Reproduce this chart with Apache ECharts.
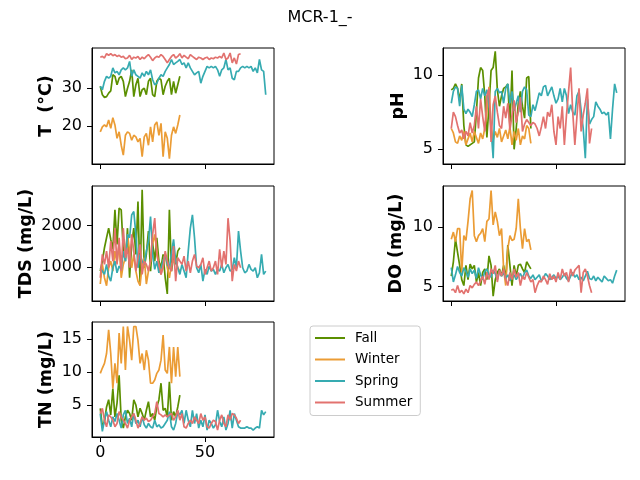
<!DOCTYPE html>
<html>
<head>
<meta charset="utf-8">
<script src="https://cdn.jsdelivr.net/npm/echarts@6/dist/echarts.min.js"></script>
<style>
  html, body { margin: 0; padding: 0; background: #fff; }
  #main { width: 640px; height: 480px; }
</style>
</head>
<body>
<div id="main"></div>
<script>
// seasons and colours
const seasons = ["Fall", "Winter", "Spring", "Summer"];
const colors = ["#5b8f00", "#eb9c35", "#36abb1", "#e2726f"];

// T (°C)
const fallT = [30.4,28.2,27.5,27.7,28.6,29.2,33.4,33.0,30.8,32.5,33.0,31.7,27.7,29.9,31.7,34.7,27.7,30.8,32.5,27.7,29.5,29.9,28.2,31.7,32.5,28.2,27.7,31.7,32.5,32.1,28.2,30.4,31.7,32.5,28.2,31.7,28.6,30.8,33.0];
const winterT = [18.5,19.8,20.3,19.8,21.6,19.4,22.2,20.3,16.8,18.5,15.0,12.4,17.6,18.5,18.1,16.3,17.6,17.2,15.9,16.8,12.0,17.2,18.1,15.0,19.8,15.9,20.3,21.1,17.6,20.7,12.0,18.5,16.8,11.5,17.6,19.8,18.1,20.3,22.9];
const springT = [30.4,29.5,31.7,33.0,32.5,33.0,35.2,33.9,34.3,33.4,34.7,35.2,34.7,35.2,36.9,33.0,34.7,33.4,33.0,32.5,33.9,33.0,34.3,33.4,34.7,32.1,30.8,31.2,32.5,33.4,33.0,34.3,35.2,36.1,37.4,36.1,36.5,36.9,37.4,36.1,36.5,35.2,36.5,35.2,34.3,33.4,33.9,34.3,31.2,33.0,34.3,35.6,35.2,35.6,35.2,35.6,34.7,33.0,34.7,35.2,37.4,34.7,35.2,32.5,32.1,34.3,34.3,35.2,35.6,35.2,35.6,35.2,35.6,34.3,35.2,33.9,37.4,34.7,34.3,28.2];
const summerT = [38.0,38.2,37.8,38.9,38.5,38.9,38.4,38.7,38.2,38.5,38.0,38.2,37.6,37.8,38.5,37.4,38.0,37.8,38.2,37.4,38.0,37.6,38.2,38.7,38.0,37.1,37.8,38.2,38.0,38.7,38.2,37.4,36.5,37.4,38.2,38.7,37.8,38.2,38.9,37.8,38.5,38.0,37.6,38.7,38.2,37.8,37.4,38.0,37.8,37.4,37.8,38.0,37.4,37.8,37.6,38.0,37.8,38.2,37.8,39.1,37.4,37.8,39.1,36.5,37.8,36.2,38.7,38.9];

// pH
const fallPH = [9.0,9.1,9.4,9.1,8.3,9.4,6.6,5.3,5.2,5.3,5.4,5.5,7.5,9.8,10.5,10.3,8.6,5.8,7.9,10.3,10.5,11.6,9.0,7.9,8.6,9.1,9.2,9.4,6.6,10.3,5.0,6.4,8.1,8.9,7.9,7.1,9.8,9.9,6.4];
const winterPH = [6.4,6.1,5.5,5.4,5.9,5.6,6.2,5.3,5.7,6.1,5.5,6.2,5.8,5.4,6.1,5.7,6.4,7.5,9.2,6.6,5.6,6.2,5.8,6.4,5.5,5.9,6.3,5.7,6.5,5.3,6.2,5.6,6.4,5.3,5.9,5.7,6.6,6.4,5.4];
const springPH = [8.1,8.9,9.2,9.1,7.9,9.3,7.7,7.4,7.7,7.5,7.2,8.0,8.9,9.0,8.4,9.1,8.6,9.0,8.0,6.4,4.4,8.9,9.1,8.8,8.9,8.1,9.1,9.4,8.1,8.9,7.6,8.1,8.6,7.5,8.9,9.2,9.0,7.3,7.2,8.0,7.6,8.2,8.8,8.6,9.2,9.3,8.6,8.9,9.2,8.6,8.1,8.4,9.1,8.2,9.1,8.6,7.4,8.0,7.5,7.3,8.6,8.9,7.6,6.4,4.4,8.4,6.7,7.0,7.2,8.2,7.9,7.7,7.4,7.5,7.3,7.5,5.7,7.7,9.4,8.8];
const summerPH = [6.4,7.5,7.2,6.6,6.1,6.3,5.7,6.2,5.9,6.8,6.1,6.6,7.9,6.4,8.4,7.2,6.2,8.6,9.1,5.5,8.0,8.6,7.5,6.6,6.4,7.9,7.1,8.1,6.3,7.3,8.3,6.8,7.5,8.5,6.2,6.7,7.0,6.8,6.6,6.8,6.7,6.4,5.9,6.5,7.2,6.4,7.5,7.2,8.0,6.2,5.3,7.2,6.4,7.9,5.3,7.3,8.9,10.5,7.5,5.3,7.2,9.1,6.2,7.3,8.1,9.1,5.4,6.4];

// TDS (mg/L)
const fallTDS = [910,1150,1470,1710,1940,1670,1430,2380,1550,2420,2380,1390,1150,1940,750,1550,1940,1310,2580,600,2860,990,1310,1870,910,1590,1150,1710,1150,990,1310,750,360,2380,910,1270,1070,1390,1470];
const winterTDS = [600,1070,750,560,990,1150,910,1390,1110,1550,750,1070,1230,1790,1390,990,1310,910,670,560,1070,1230,600,910,1150,1550,1790,1390,990,830,1150,1310,990,750,1070,1150,1230,990,910];
const springTDS = [990,910,830,1070,790,670,990,1150,870,1030,950,1390,1150,1790,1710,2260,2340,1790,990,1310,1150,1070,1390,1630,2220,1310,950,1150,870,990,1150,1310,1070,990,1350,1670,1150,990,830,1070,910,750,1390,1940,2260,1710,990,870,1070,670,950,830,1030,910,950,830,950,910,1070,870,990,1070,910,950,1230,990,1870,1390,990,870,910,1070,950,910,990,750,870,1310,830,910];
const summerTDS = [750,1310,1070,1390,990,1630,1150,1940,1070,1710,910,1940,1230,1470,990,1790,1390,910,1230,1550,830,1150,1070,910,1150,1790,2180,1310,1070,830,990,1390,1150,990,910,1510,670,1230,1150,1070,1270,910,1150,870,1150,1310,1030,990,1070,1230,830,990,1150,910,990,1150,830,1430,990,1390,1070,2180,1630,670,1070,910,1150,990];

// DO (mg/L)
const fallDO = [5.9,7.1,9.0,7.9,6.8,5.6,5.1,6.8,5.6,6.9,6.5,6.8,5.4,6.2,5.1,6.2,6.5,5.6,7.6,6.8,4.2,5.6,6.2,6.5,5.9,6.8,5.6,8.5,6.8,5.1,6.8,5.9,6.8,6.9,6.5,6.2,7.1,6.8,6.5];
const winterDO = [9.0,9.6,8.8,9.9,9.9,6.2,9.3,8.9,10.5,12.4,13.1,9.3,8.8,9.3,9.5,9.9,8.8,10.5,10.7,13.1,10.2,11.3,10.5,9.3,9.9,6.5,5.1,8.2,9.3,8.9,9.0,9.9,12.4,9.9,8.2,9.9,8.8,9.0,8.1];
const springDO = [6.6,5.4,6.0,6.7,6.2,5.9,6.6,6.3,5.8,6.5,6.1,6.4,5.7,6.6,6.0,5.6,6.3,6.5,6.0,5.8,6.4,6.1,5.6,6.3,5.9,6.2,5.7,6.0,5.5,5.8,6.0,5.6,5.9,6.1,5.7,6.2,6.4,5.9,5.7,6.0,5.6,5.8,6.0,5.5,5.7,6.1,5.9,5.6,5.8,6.0,5.7,5.9,5.6,5.8,6.1,5.7,5.5,5.9,6.2,5.8,6.0,5.6,5.8,5.5,5.9,6.3,5.7,5.6,5.9,5.5,5.8,5.6,5.4,5.9,5.7,5.5,5.6,5.3,5.9,6.4];
const summerDO = [4.7,4.8,4.5,5.1,4.5,4.7,4.4,4.8,4.5,5.1,4.9,5.2,5.4,5.1,5.5,5.9,5.2,6.2,5.6,6.5,6.1,6.8,5.4,6.4,5.9,6.5,5.6,5.1,6.2,5.6,6.5,5.8,6.2,5.1,5.9,5.6,6.2,5.8,5.4,5.6,4.5,5.1,5.5,5.4,5.9,5.6,5.2,6.1,5.6,5.9,5.4,6.2,5.6,6.5,5.9,6.2,5.4,6.5,5.9,6.4,6.6,6.8,4.5,6.2,6.5,5.9,5.1,4.5];

// TN (mg/L)
const fallTN = [4.5,1.7,2.5,4.7,5.8,3.5,7.5,3.2,5.3,9.5,2.7,1.5,3.2,4.2,3.7,2.7,5.8,5.0,3.2,4.5,3.7,2.7,4.2,5.5,3.2,3.7,2.7,4.7,5.8,8.3,4.2,4.5,3.2,8.5,2.7,4.0,3.2,4.7,6.5];
const winterTN = [9.8,10.6,11.3,12.8,16.4,12.8,7.5,11.3,8.3,15.9,11.3,16.9,10.3,16.9,14.8,11.8,16.9,16.9,14.8,11.3,12.8,10.3,13.3,11.8,8.3,8.3,8.8,9.8,10.3,11.8,15.6,10.3,9.8,13.8,8.3,13.8,9.3,13.8,9.3];
const springTN = [3.7,1.0,2.7,4.0,2.7,1.7,3.2,2.5,3.7,2.7,1.5,3.5,4.2,2.2,3.0,1.7,3.7,2.2,2.7,1.7,3.2,2.0,1.5,2.2,1.7,1.5,2.7,1.7,2.0,1.5,1.7,2.2,2.7,4.0,1.7,1.2,2.2,4.0,3.5,4.2,2.2,4.2,2.7,1.7,4.2,2.2,3.7,1.5,2.7,1.7,3.5,1.2,2.7,2.2,1.5,2.0,4.2,2.5,1.7,3.2,1.2,2.2,4.2,1.5,3.7,2.7,1.7,1.5,1.5,1.5,1.7,1.5,1.5,1.2,1.5,1.7,1.5,4.2,3.5,4.0];
const summerTN = [3.7,4.5,2.7,1.7,3.5,3.2,2.7,1.7,2.2,4.0,3.2,2.7,2.2,1.5,2.7,3.2,3.7,2.7,1.5,2.2,3.2,2.7,3.0,2.5,2.7,3.2,3.7,5.5,3.7,3.5,3.2,3.5,3.2,3.5,3.7,2.7,3.2,4.2,2.7,3.7,1.7,1.5,2.2,2.7,2.2,3.2,2.7,2.2,3.7,2.7,3.2,1.7,1.5,2.2,2.7,2.5,1.2,2.7,3.5,2.2,1.7,3.5,2.7,3.7,3.5,3.0,2.2,2.7];

// panel labels and tick labels
const yNames = ["T  (°C)", "pH", "TDS (mg/L)", "DO (mg/L)", "TN (mg/L)"];
const yTicks = [[20, 30], [5, 10], [1000, 2000], [5, 10], [5, 10, 15]];
const xTicks = [0, 50];

const panels = [
  [fallT, winterT, springT, summerT],
  [fallPH, winterPH, springPH, summerPH],
  [fallTDS, winterTDS, springTDS, summerTDS],
  [fallDO, winterDO, springDO, summerDO],
  [fallTN, winterTN, springTN, summerTN]
];

// layout
const boxes = [
  { left: 92, top: 48, width: 182, height: 116 },
  { left: 443, top: 48, width: 182, height: 116 },
  { left: 92, top: 186, width: 182, height: 115 },
  { left: 443, top: 186, width: 182, height: 115 },
  { left: 92, top: 322, width: 182, height: 115 }
];
const yRange = [[10.1, 40.4], [4.01, 11.82], [192, 2952], [3.8, 13.48], [0.15, 17.58]];
const nameGaps = [37, 36, 57, 38, 37];

const font = "DejaVu Sans";
const chart = echarts.init(document.getElementById("main"));

const grid = boxes.map(b => ({
  left: b.left, top: b.top, width: b.width, height: b.height,
  show: true, borderColor: "#000", borderWidth: 1, backgroundColor: "transparent"
}));

const xAxis = boxes.map((b, i) => ({
  type: "value", gridIndex: i, min: -3.95, max: 82.95,
  splitLine: { show: false },
  axisLine: { show: true, onZero: false, lineStyle: { color: "#000", width: 1 } },
  axisTick: { show: true, length: 5, customValues: xTicks, lineStyle: { color: "#000" } },
  axisLabel: {
    show: i === 4, customValues: xTicks, margin: 8, fontSize: 16, fontFamily: font, color: "#000",
    formatter: v => String(v)
  }
}));

const yAxis = boxes.map((b, i) => ({
  type: "value", gridIndex: i, min: yRange[i][0], max: yRange[i][1],
  name: yNames[i], nameLocation: "middle", nameRotate: 90, nameGap: nameGaps[i],
  nameTextStyle: { fontSize: 17.5, fontWeight: "bold", fontFamily: font, color: "#000" },
  splitLine: { show: false },
  axisLine: { show: true, onZero: false, lineStyle: { color: "#000", width: 1 } },
  axisTick: { show: true, length: 5, customValues: yTicks[i], lineStyle: { color: "#000" } },
  axisLabel: {
    customValues: yTicks[i], margin: 10, fontSize: 16, fontFamily: font, color: "#000",
    formatter: v => String(v)
  }
}));

const series = [];
panels.forEach((sets, i) => {
  sets.forEach((vals, k) => {
    series.push({
      name: seasons[k], type: "line", xAxisIndex: i, yAxisIndex: i,
      data: vals.map((v, j) => [j, v]),
      showSymbol: false, symbol: "none",
      color: colors[k],
      lineStyle: { width: 1.7, color: colors[k] }
    });
  });
});

chart.setOption({
  animation: false,
  backgroundColor: "#fff",
  title: {
    text: "MCR-1_-", left: "center", top: 10, padding: 0,
    textStyle: { fontSize: 16, fontWeight: "normal", fontFamily: font, color: "#000" }
  },
  legend: {
    orient: "vertical", left: 310, top: 326,
    data: seasons, icon: "rect", itemWidth: 30, itemHeight: 2, itemGap: 7.5,
    padding: [5, 8, 6, 5],
    borderColor: "#cccccc", borderWidth: 1, borderRadius: 3,
    textStyle: { fontSize: 13.5, fontFamily: font, color: "#000", padding: [0, 0, 0, 5] }
  },
  grid: grid,
  xAxis: xAxis,
  yAxis: yAxis,
  series: series
});
</script>
</body>
</html>
